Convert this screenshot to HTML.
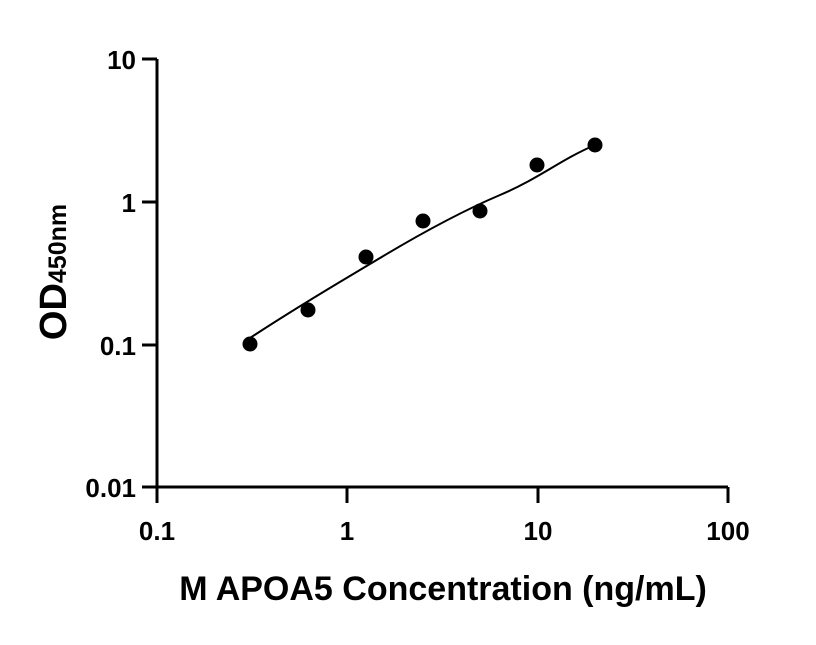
<!DOCTYPE html><html><head><style>body{margin:0;background:#fff}</style></head><body>
<svg width="816" height="640" xmlns="http://www.w3.org/2000/svg" font-family="Liberation Sans, sans-serif" font-weight="bold">
<g stroke="#000" stroke-width="3" fill="none">
<path d="M157,59 V487 H728"/>
<path d="M142,59H157M142,202H157M142,345H157M142,487H157"/>
<path d="M157,487V503M347,487V503M538,487V503M728,487V503"/>
</g>
<g font-size="26" text-anchor="end" fill="#000">
<text x="136" y="69">10</text><text x="136" y="212">1</text><text x="136" y="355">0.1</text><text x="136" y="497">0.01</text>
</g>
<g font-size="26" text-anchor="middle" fill="#000">
<text x="157" y="540">0.1</text><text x="347" y="540">1</text><text x="538" y="540">10</text><text x="728" y="540">100</text>
</g>
<text x="443" y="600" font-size="34" text-anchor="middle">M APOA5 Concentration (ng/mL)</text>
<text transform="translate(66,272) rotate(-90)" font-size="38" text-anchor="middle">OD<tspan font-size="25">450nm</tspan></text>
<path d="M250,338 C300,305 340,282 380,258 S460,212 500,195 S560,160 595,145" stroke="#000" stroke-width="2" fill="none"/>
<g fill="#000">
<circle cx="250" cy="344" r="7.5"/><circle cx="308" cy="310" r="7.5"/><circle cx="366" cy="257" r="7.5"/><circle cx="423" cy="221" r="7.5"/><circle cx="480" cy="211" r="7.5"/><circle cx="537" cy="165" r="7.5"/><circle cx="595" cy="145" r="7.5"/>
</g>
</svg></body></html>
